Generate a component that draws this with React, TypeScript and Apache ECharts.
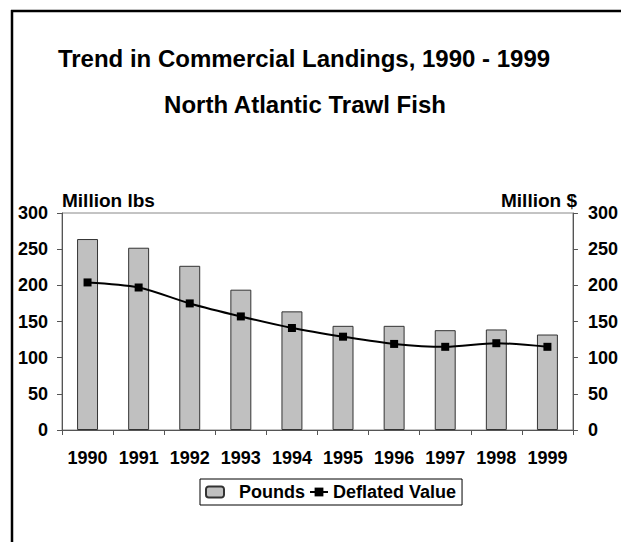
import React, { useEffect, useRef } from "react";
import * as echarts from "echarts";

const years = ["1990", "1991", "1992", "1993", "1994", "1995", "1996", "1997", "1998", "1999"];
const pounds = [264, 252, 227, 194, 164, 144, 144, 138, 139, 132];
const deflatedValue = [204, 197, 175, 157, 141, 129, 119, 115, 120, 115];
const yTicks = { min: 0, max: 300, interval: 50 };

const FONT = "'Liberation Sans', Arial, sans-serif";

export default function App() {
  const ref = useRef<HTMLDivElement>(null);
  useEffect(() => {
    if (!ref.current) return;
    const chart = echarts.init(ref.current, undefined, { renderer: "svg" });
    const axisCommon = {
      type: "value" as const,
      min: yTicks.min,
      max: yTicks.max,
      interval: yTicks.interval,
      splitLine: { show: false },
      axisLine: { show: true, lineStyle: { color: "#555", width: 1 } },
      axisTick: { show: true, length: 5, lineStyle: { color: "#555" } },
      axisLabel: { color: "#000", fontFamily: FONT, fontWeight: "bold", fontSize: 18, margin: 14 },
    };
    chart.setOption({
      animation: false,
      backgroundColor: "#fff",
      textStyle: { fontFamily: FONT },
      grid: { left: 62, right: 43, top: 213, bottom: 112, show: true, borderColor: "#888", borderWidth: 1, backgroundColor: "transparent" },
      graphic: [
        { type: "line", shape: { x1: 12, y1: 10, x2: 12, y2: 542 }, style: { stroke: "#000", lineWidth: 2.5 } },
        { type: "line", shape: { x1: 11, y1: 11, x2: 621, y2: 11 }, style: { stroke: "#000", lineWidth: 2.5 } },
        { type: "text", x: 304, y: 58, style: { text: "Trend in Commercial Landings, 1990 - 1999", font: `bold 24px ${FONT}`, fill: "#000", align: "center", verticalAlign: "middle" } },
        { type: "text", x: 305, y: 104, style: { text: "North Atlantic Trawl Fish", font: `bold 24px ${FONT}`, fill: "#000", align: "center", verticalAlign: "middle" } },
        { type: "text", x: 62, y: 200, style: { text: "Million lbs", font: `bold 19px ${FONT}`, fill: "#000", align: "left", verticalAlign: "middle" } },
        { type: "text", x: 577, y: 200, style: { text: "Million $", font: `bold 19px ${FONT}`, fill: "#000", align: "right", verticalAlign: "middle" } },
      ],
      legend: {
        left: 200,
        top: 479,
        orient: "horizontal",
        borderColor: "#000",
        borderWidth: 1,
        padding: [4, 6, 4, 5],
        itemWidth: 18,
        itemHeight: 11,
        itemGap: 4,
        textStyle: { color: "#000", fontFamily: FONT, fontWeight: "bold", fontSize: 18 },
        data: [
          { name: "Pounds", textStyle: { padding: [0, 0, 0, 10] } },
          { name: "Deflated Value" },
        ],
      },
      xAxis: {
        type: "category",
        data: years,
        boundaryGap: true,
        axisLine: { show: true, lineStyle: { color: "#555" } },
        axisTick: { show: true, length: 5, lineStyle: { color: "#555" } },
        axisLabel: { color: "#000", fontFamily: FONT, fontWeight: "bold", fontSize: 18, margin: 19, interval: 0 },
      },
      yAxis: [
        { ...axisCommon, position: "left" },
        { ...axisCommon, position: "right", axisLabel: { ...axisCommon.axisLabel, margin: 15 } },
      ],
      series: [
        {
          name: "Pounds",
          type: "bar",
          data: pounds,
          yAxisIndex: 0,
          barWidth: "41%",
          itemStyle: { color: "#c0c0c0", borderColor: "#333", borderWidth: 1 },
        },
        {
          name: "Deflated Value",
          type: "line",
          data: deflatedValue,
          yAxisIndex: 1,
          smooth: 0.3,
          symbol: "rect",
          symbolSize: 8,
          lineStyle: { color: "#000", width: 2 },
          itemStyle: { color: "#000" },
        },
      ],
    });
    return () => chart.dispose();
  }, []);
  return <div ref={ref} style={{ position: "fixed", left: 0, top: 0, width: 621, height: 542 }} />;
}
